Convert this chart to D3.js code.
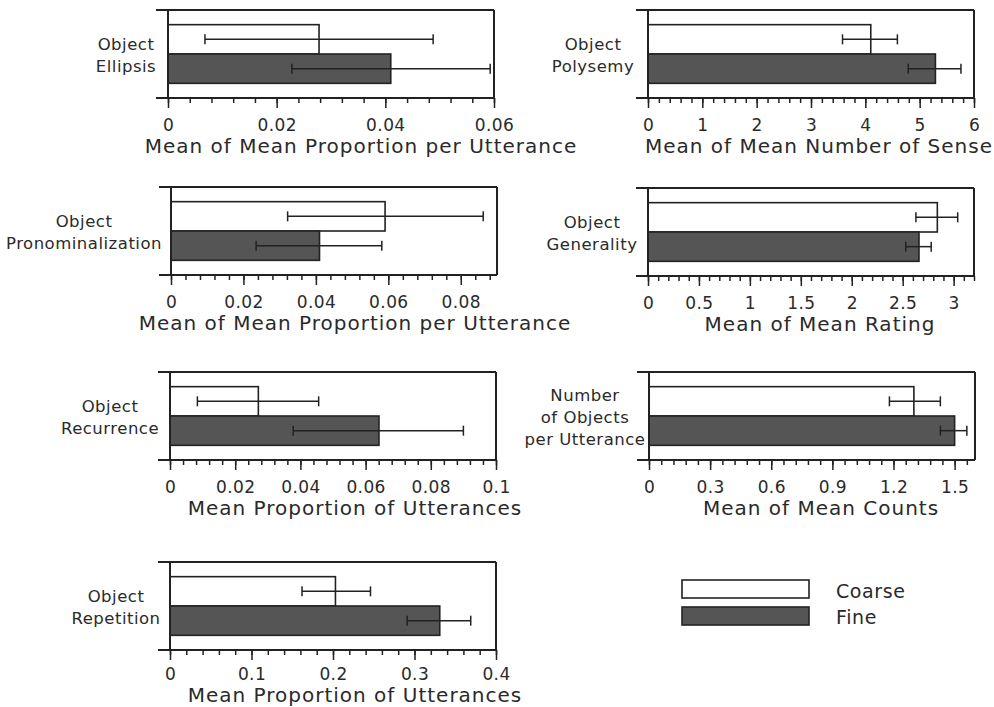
<!DOCTYPE html>
<html>
<head>
<meta charset="utf-8">
<script src="https://cdn.jsdelivr.net/npm/d3@7"></script>
<style>
  html, body { margin: 0; padding: 0; background: #fff; }
  svg { display: block; }
  text { font-family: "DejaVu Sans", Verdana, sans-serif; fill: #2a2a2a; }
</style>
</head>
<body>
<svg id="chart" width="994" height="707"></svg>
<script>
// ---------- DATA ----------
const panelLabels = [
  ["Object", "Ellipsis"],
  ["Object", "Polysemy"],
  ["Object", "Pronominalization"],
  ["Object", "Generality"],
  ["Object", "Recurrence"],
  ["Number", "of Objects", "per Utterance"],
  ["Object", "Repetition"]
];
const axisTitles = [
  "Mean of Mean Proportion per Utterance",
  "Mean of Mean Number of Sense",
  "Mean of Mean Proportion per Utterance",
  "Mean of Mean Rating",
  "Mean Proportion of Utterances",
  "Mean of Mean Counts",
  "Mean Proportion of Utterances"
];
const seriesNames = ["Coarse", "Fine"];
const coarseMean = [0.0278, 4.10, 0.0591, 2.84, 0.0271, 1.30, 0.203];
const coarseLow  = [0.0068, 3.58, 0.0322, 2.63, 0.0084, 1.18, 0.162];
const coarseHigh = [0.0488, 4.59, 0.0862, 3.04, 0.0456, 1.43, 0.246];
const fineMean   = [0.0410, 5.29, 0.0410, 2.66, 0.0641, 1.50, 0.331];
const fineLow    = [0.0228, 4.79, 0.0235, 2.53, 0.0378, 1.43, 0.291];
const fineHigh   = [0.0593, 5.76, 0.0582, 2.78, 0.0900, 1.56, 0.369];
const axisMax    = [0.06, 6, 0.09, 3.2, 0.1, 1.6, 0.4];
const majorTicks = [
  [0, 0.02, 0.04, 0.06],
  [0, 1, 2, 3, 4, 5, 6],
  [0, 0.02, 0.04, 0.06, 0.08],
  [0, 0.5, 1, 1.5, 2, 2.5, 3],
  [0, 0.02, 0.04, 0.06, 0.08, 0.1],
  [0, 0.3, 0.6, 0.9, 1.2, 1.5],
  [0, 0.1, 0.2, 0.3, 0.4]
];
const minorStep  = [0.004, 0.2, 0.004, 0.1, 0.004, 0.06, 0.02];

// ---------- LAYOUT ----------
const PW = 326, PH = 88;
const panelPos = [
  {x: 168, y: 10, lab: 126, tit: 361, tdy: 55, ldy: 33},
  {x: 648, y: 10, lab: 593, tit: 819, tdy: 55, ldy: 33},
  {x: 171, y: 187, lab: 84, tit: 355, tdy: 55, ldy: 33},
  {x: 648, y: 188, lab: 592, tit: 820, tdy: 55, ldy: 33},
  {x: 170, y: 372, lab: 110, tit: 355, tdy: 55, ldy: 33},
  {x: 649, y: 372, lab: 585, tit: 821, tdy: 55, ldy: 33},
  {x: 170, y: 562, lab: 116, tit: 355, tdy: 52, ldy: 30}
];
const INK = "#222";
const FINE_FILL = "#555";

const svg = d3.select("#chart");

panelPos.forEach((p, i) => {
  const g = svg.append("g").attr("transform", `translate(${p.x},${p.y})`);
  const x = d3.scaleLinear().domain([0, axisMax[i]]).range([0, PW]);
  const y = d3.scaleBand().domain(seriesNames).range([0, PH]).paddingOuter(0.5).paddingInner(0);

  const rows = [
    {name: "Coarse", m: coarseMean[i], lo: coarseLow[i], hi: coarseHigh[i], fill: "#fff"},
    {name: "Fine", m: fineMean[i], lo: fineLow[i], hi: fineHigh[i], fill: FINE_FILL}
  ];

  // bars
  g.selectAll("rect.bar").data(rows).join("rect")
    .attr("class", "bar")
    .attr("x", x(0))
    .attr("y", d => y(d.name))
    .attr("width", d => x(d.m) - x(0))
    .attr("height", y.bandwidth())
    .attr("fill", d => d.fill)
    .attr("stroke", INK)
    .attr("stroke-width", 1.6);

  // error bars
  const eb = g.selectAll("g.eb").data(rows).join("g").attr("class", "eb")
    .attr("stroke", INK).attr("stroke-width", 1.5).attr("fill", "none");
  eb.append("line")
    .attr("x1", d => x(d.lo)).attr("x2", d => x(d.hi))
    .attr("y1", d => y(d.name) + y.bandwidth() / 2)
    .attr("y2", d => y(d.name) + y.bandwidth() / 2);
  eb.append("line")
    .attr("x1", d => x(d.lo)).attr("x2", d => x(d.lo))
    .attr("y1", d => y(d.name) + y.bandwidth() / 2 - 5)
    .attr("y2", d => y(d.name) + y.bandwidth() / 2 + 5);
  eb.append("line")
    .attr("x1", d => x(d.hi)).attr("x2", d => x(d.hi))
    .attr("y1", d => y(d.name) + y.bandwidth() / 2 - 5)
    .attr("y2", d => y(d.name) + y.bandwidth() / 2 + 5);

  // frame: top, right, left, bottom (with left-pointing y ticks)
  const frame = g.append("g").attr("stroke", INK).attr("stroke-width", 2).attr("fill", "none");
  frame.append("line").attr("x1", -12).attr("x2", PW).attr("y1", 0).attr("y2", 0);
  frame.append("line").attr("x1", PW).attr("x2", PW).attr("y1", 0).attr("y2", PH);
  frame.append("line").attr("x1", 0).attr("x2", 0).attr("y1", 0).attr("y2", PH);
  frame.append("line").attr("x1", -12).attr("x2", PW).attr("y1", PH).attr("y2", PH);

  // minor ticks
  const nMinor = Math.floor(axisMax[i] / minorStep[i] + 1e-6);
  const minorVals = d3.range(0, nMinor + 1).map(k => +(k * minorStep[i]).toFixed(6));
  const minorAxis = d3.axisBottom(x).tickValues(minorVals).tickSize(5).tickSizeOuter(0).tickFormat("");
  const mg = g.append("g").attr("transform", `translate(0,${PH})`).call(minorAxis);
  mg.select(".domain").remove();
  mg.selectAll("line").attr("stroke", INK).attr("stroke-width", 1.5);

  // major ticks with labels
  const majorAxis = d3.axisBottom(x).tickValues(majorTicks[i]).tickSize(10).tickSizeOuter(0)
    .tickFormat(d3.format("~g"));
  const ag = g.append("g").attr("transform", `translate(0,${PH})`).call(majorAxis);
  ag.select(".domain").remove();
  ag.selectAll("line").attr("stroke", INK).attr("stroke-width", 1.5);
  ag.selectAll("text")
    .attr("y", p.ldy).attr("dy", null)
    .style("font-family", '"DejaVu Sans", Verdana, sans-serif')
    .style("font-size", "17px")
    .style("letter-spacing", "0.4px")
    .attr("fill", "#2a2a2a");

  // axis title
  svg.append("text")
    .attr("x", p.tit).attr("y", p.y + PH + p.tdy)
    .attr("text-anchor", "middle")
    .style("font-size", "20px")
    .style("letter-spacing", "1px")
    .text(axisTitles[i]);

  // category label (multi-line, centered)
  const lines = panelLabels[i];
  const mid = p.y + PH / 2;
  const lh = 21.7;
  const t = svg.append("text")
    .attr("text-anchor", "middle")
    .style("font-size", "16.5px")
    .style("letter-spacing", "0.5px");
  lines.forEach((ln, k) => {
    t.append("tspan")
      .attr("x", p.lab)
      .attr("y", mid + 7 - (lines.length - 1) * lh / 2 + k * lh)
      .text(ln);
  });
});

// ---------- LEGEND ----------
const legendFills = ["#fff", FINE_FILL];
const lg = svg.append("g");
seriesNames.forEach((name, k) => {
  lg.append("rect")
    .attr("x", 682).attr("y", 580 + k * 27)
    .attr("width", 127).attr("height", 18)
    .attr("fill", legendFills[k])
    .attr("stroke", INK).attr("stroke-width", 1.6);
  lg.append("text")
    .attr("x", 836).attr("y", 598 + k * 26)
    .style("font-size", "19px")
    .style("letter-spacing", "0.6px")
    .text(name);
});
</script>
</body>
</html>
